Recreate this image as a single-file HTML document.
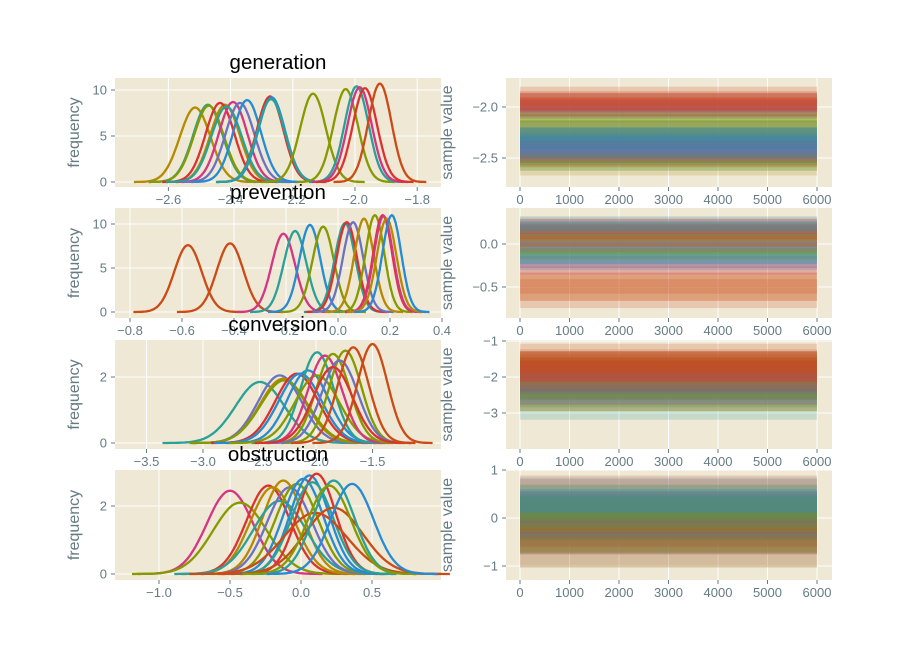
<!DOCTYPE html>
<html><head><meta charset="utf-8">
<style>
body{margin:0;background:#fff;}
svg text{font-family:"Liberation Sans","DejaVu Sans",sans-serif;}
.tk{fill:#657b83;font-size:13px;}
.ttl{fill:#000;font-size:20.5px;}
.lab{fill:#657b83;font-size:16px;}
</style></head>
<body>
<svg id="fig" width="923" height="651" viewBox="0 0 923 651" xmlns="http://www.w3.org/2000/svg"></svg>
<script>
// ---- data ----
const genColors = ["#b58900","#2aa198","#859900","#b58900","#dc322f","#d33682","#2aa198","#6c71c4","#268bd2","#dc322f","#268bd2","#2aa198","#859900","#859900","#2aa198","#d33682","#dc322f","#cb4b16"];
const genMeans  = [-2.514,-2.473,-2.47,-2.418,-2.434,-2.392,-2.413,-2.37,-2.347,-2.273,-2.268,-2.27,-2.135,-2.03,-1.995,-1.985,-1.968,-1.92];
const genPeaks  = [8.1,8.4,8.3,8.4,8.6,8.7,8.2,8.6,8.9,9.3,9.2,9.0,9.6,10.1,10.4,10.3,10.2,10.7];

const prevColors = ["#cb4b16","#cb4b16","#d33682","#2aa198","#268bd2","#859900","#2aa198","#dc322f","#6c71c4","#b58900","#859900","#dc322f","#d33682","#b58900","#268bd2"];
const prevMeans  = [-0.577,-0.415,-0.21,-0.165,-0.108,-0.057,0.027,0.034,0.058,0.10,0.142,0.172,0.175,0.187,0.207];
const prevPeaks  = [7.6,7.8,8.9,9.2,9.9,9.7,10.1,10.2,10.2,10.6,11.0,11.0,10.9,10.6,11.0];

const convColors = ["#2aa198","#6c71c4","#b58900","#859900","#dc322f","#268bd2","#268bd2","#2aa198","#859900","#d33682","#859900","#859900","#6c71c4","#dc322f","#cb4b16","#cb4b16"];
const convMeans  = [-2.496,-2.32,-2.29,-2.28,-2.17,-2.14,-2.07,-1.99,-1.99,-1.92,-1.85,-1.74,-1.79,-1.85,-1.67,-1.5];
const convPeaks  = [1.85,2.05,1.95,1.9,2.1,2.1,2.2,2.75,2.05,2.65,2.7,2.8,2.5,2.3,2.9,3.0];

const obsColors = ["#d33682","#859900","#dc322f","#b58900","#b58900","#2aa198","#6c71c4","#859900","#268bd2","#268bd2","#dc322f","#2aa198","#cb4b16","#cb4b16","#2aa198","#859900","#268bd2"];
const obsMeans  = [-0.5,-0.43,-0.23,-0.2,-0.125,-0.15,-0.08,-0.03,0.015,0.06,0.11,0.08,0.23,0.1,0.23,0.2,0.36];
const obsPeaks  = [2.45,2.1,2.6,2.55,2.75,2.15,2.55,2.65,2.8,2.9,2.95,2.7,1.95,1.8,2.75,2.6,2.65];

const traceTicks = [0,1000,2000,3000,4000,5000,6000];
const nDraws = 6000;

// ---- helpers ----
const svg = document.getElementById('fig');
const NS = "http://www.w3.org/2000/svg";
function mk(tag, attrs, parent){ const e=document.createElementNS(NS,tag); for(const k in attrs) e.setAttribute(k,attrs[k]); (parent||svg).appendChild(e); return e; }
function txt(x,y,s,cls,anchor,rot){ const t=mk('text',{x:x,y:y,class:cls,'text-anchor':anchor||'middle'}); if(rot) t.setAttribute('transform',`rotate(-90 ${x} ${y})`); t.textContent=s; return t; }

const panels = [
 {name:'generation', y0:78, y1:187, x0v:-2.0, x0px:355, xs:311, xt:[-2.6,-2.4,-2.2,-2.0,-1.8], xd:1, yz:182, ys:9.2, yt:[0,5,10], C:genColors, M:genMeans, P:genPeaks,
  tz:107, tzv:-2.0, tys:102, tyt:[-2.0,-2.5], tyd:1},
 {name:'prevention', y0:208, y1:318, x0v:0, x0px:338, xs:260, xt:[-0.8,-0.6,-0.4,-0.2,0.0,0.2,0.4], xd:1, yz:312, ys:8.8, yt:[0,5,10], C:prevColors, M:prevMeans, P:prevPeaks,
  tz:244, tzv:0, tys:86, tyt:[0.0,-0.5], tyd:1},
 {name:'conversion', y0:340, y1:449, x0v:-2.0, x0px:316, xs:113, xt:[-3.5,-3.0,-2.5,-2.0,-1.5], xd:1, yz:443, ys:33, yt:[0,2], C:convColors, M:convMeans, P:convPeaks,
  tz:377, tzv:-2, tys:36, tyt:[-1,-2,-3], tyd:0},
 {name:'obstruction', y0:470, y1:580, x0v:0, x0px:301, xs:142, xt:[-1.0,-0.5,0.0,0.5], xd:1, yz:574, ys:34, yt:[0,2], C:obsColors, M:obsMeans, P:obsPeaks,
  tz:518, tzv:0, tys:48, tyt:[1,0,-1], tyd:0}
];
const LX0=115, LX1=441, RX0=506, RX1=832;
const tx = d => 520 + (d/nDraws)*297;
function f(v,d){ return (v<0?'\u2212':'')+Math.abs(v).toFixed(d); }

panels.forEach(p=>{
  const g = mk('g',{});
  
  
  const xS = v => p.x0px + (v-p.x0v)*p.xs;
  const yS = v => p.yz - v*p.ys;
  mk('rect',{x:LX0,y:p.y0,width:LX1-LX0,height:p.y1-p.y0,fill:'#eee8d5'},g);
  p.xt.forEach(v=>{ const x=xS(v); mk('line',{x1:x,x2:x,y1:p.y0,y2:p.y1,stroke:'#fff','stroke-width':1},g); mk('line',{x1:x,x2:x,y1:p.y1,y2:p.y1+4,stroke:'#657b83'},g); txt(x,p.y1+17,f(v,p.xd),'tk'); });
  p.yt.forEach(v=>{ const y=yS(v); mk('line',{x1:LX0,x2:LX1,y1:y,y2:y,stroke:'#fff','stroke-width':1},g); mk('line',{x1:LX0-4,x2:LX0,y1:y,y2:y,stroke:'#657b83'},g); txt(LX0-8,y+4.5,String(v),'tk','end'); });
  p.M.forEach((m,i)=>{
    const sd = 0.3989/p.P[i];
    let pts=[];
    for(let k=0;k<=80;k++){ const v=m-4*sd+8*sd*k/80; const d=p.P[i]*Math.exp(-0.5*((v-m)/sd)**2); pts.push(xS(v).toFixed(1)+','+yS(d).toFixed(1)); }
    const pl = mk('polyline',{points:pts.join(' '),fill:'none',stroke:p.C[i],'stroke-width':2.3},g);
    
    
  });
  const t = txt(278, p.y0-9, p.name, 'ttl');
  
  
  const yl = txt(79, (p.y0+p.y1)/2, 'frequency', 'lab','middle',true);
  
  

  const h = mk('g',{});
  
  
  const tyS = v => p.tz - (v-p.tzv)*p.tys;
  mk('rect',{x:RX0,y:p.y0,width:RX1-RX0,height:p.y1-p.y0,fill:'#eee8d5'},h);
  traceTicks.forEach(d=>{ const x=tx(d); mk('line',{x1:x,x2:x,y1:p.y0,y2:p.y1,stroke:'#fff'},h); mk('line',{x1:x,x2:x,y1:p.y1,y2:p.y1+4,stroke:'#657b83'},h); txt(x,p.y1+17,String(d),'tk'); });
  p.tyt.forEach(v=>{ const y=tyS(v); mk('line',{x1:RX0,x2:RX1,y1:y,y2:y,stroke:'#fff'},h); mk('line',{x1:RX0-4,x2:RX0,y1:y,y2:y,stroke:'#657b83'},h); txt(RX0-8,y+4.5,f(v,p.tyd),'tk','end'); });
  p.M.forEach((m,i)=>{
    const sd = 0.3989/p.P[i];
    const a = mk('rect',{x:tx(0),width:tx(nDraws)-tx(0),y:tyS(m+3.2*sd),height:tyS(m-3.2*sd)-tyS(m+3.2*sd),fill:p.C[i],opacity:0.2},h);
    
    
    const b = mk('rect',{x:tx(0),width:tx(nDraws)-tx(0),y:tyS(m+1.6*sd),height:tyS(m-1.6*sd)-tyS(m+1.6*sd),fill:p.C[i],opacity:0.33},h);
    
    
  });
  const sl = txt(452, (p.y0+p.y1)/2, 'sample value', 'lab','middle',true);
  
  
});
</script>
</body></html>
